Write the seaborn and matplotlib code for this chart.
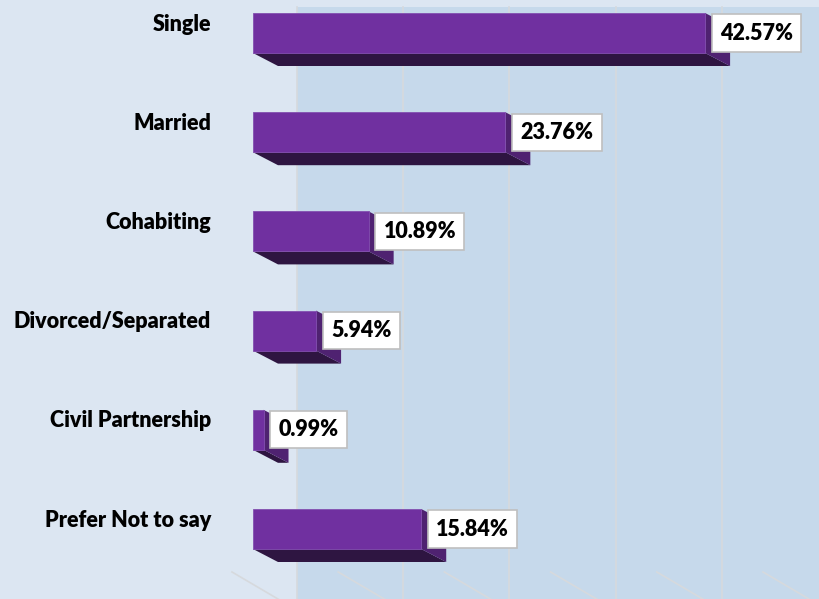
import matplotlib
matplotlib.use("Agg")
import matplotlib.pyplot as plt
import numpy as np
import pandas as pd
import seaborn as sns
from matplotlib.patches import Polygon, Rectangle
from matplotlib.lines import Line2D
from matplotlib import transforms as mtrans

# ---------------- data ----------------
categories = ["Single", "Married", "Cohabiting", "Divorced/Separated",
              "Civil Partnership", "Prefer Not to say"]
values = [42.57, 23.76, 10.89, 5.94, 0.99, 15.84]
value_labels = ["42.57%", "23.76%", "10.89%", "5.94%", "0.99%", "15.84%"]
grid_values = [0, 10, 20, 30, 40, 50]

# ---------------- style ----------------
W, H, DPI = 819, 599, 100
BG = "#DCE6F2"
WALL = "#C6D9EB"
GRID = "#D6D9DD"
FACE = "#7030A0"
SIDE_BOTTOM = "#2E1541"
SIDE_RIGHT = "#4F2271"
FONT = ["Lato", "DejaVu Sans"]
WEIGHT = "heavy"

px_per_unit = 10.62   # horizontal scale
origin_px = 253       # pixel x of value 0
row_px = 99.2         # pixel distance between bars
first_row_px = 33     # pixel y of first bar centre
bar_h = 40 / row_px
DX, DY = 25, 13       # 3D depth offset in pixels (right, down)
WALL_DX = 44          # back wall offset

fig = plt.figure(figsize=(W / DPI, H / DPI), dpi=DPI)
fig.patch.set_facecolor(BG)
ax = fig.add_axes([0, 0, 1, 1])
ax.set_facecolor(BG)

df = pd.DataFrame({"category": categories, "value": values})
sns.barplot(data=df, x="value", y="category", orient="h", color=FACE,
            saturation=1, width=bar_h, errorbar=None, ax=ax,
            edgecolor="#8350B0", linewidth=0.6, zorder=5)

ax.set_xlim(-origin_px / px_per_unit, (W - origin_px) / px_per_unit)
ax.set_ylim((H - first_row_px) / row_px, -first_row_px / row_px)
ax.axis("off")

ID = mtrans.IdentityTransform()


def disp(x, y, dx=0.0, dy=0.0):
    p = ax.transData.transform((x, y))
    return (p[0] + dx, p[1] - dy)


# back wall
wall_left = disp(0, 0, WALL_DX)[0]
wall_top = H - 7
ax.add_patch(Rectangle((wall_left, 0), W - wall_left + 5, wall_top,
                       transform=ID, facecolor=WALL, edgecolor="none", zorder=0))

# vertical gridlines on wall
for g in grid_values:
    gx = disp(g, 0, WALL_DX)[0]
    ax.add_line(Line2D([gx, gx], [0, wall_top], transform=ID, color=GRID,
                       lw=1.2, zorder=1))

# floor lines
for g in grid_values:
    sx = disp(g, 0, -21)[0]
    sy = H - 572
    ax.add_line(Line2D([sx, sx + 80], [sy, sy - 47], transform=ID,
                       color=GRID, lw=1.2, zorder=1))

# 3D sides of bars
for i, v in enumerate(values):
    top, bot = i - bar_h / 2, i + bar_h / 2
    bottom_side = [disp(0, bot), disp(v, bot), disp(v, bot, DX, DY), disp(0, bot, DX, DY)]
    right_side = [disp(v, top), disp(v, bot), disp(v, bot, DX, DY), disp(v, top, DX, DY)]
    ax.add_patch(Polygon(bottom_side, closed=True, transform=ID,
                         facecolor=SIDE_BOTTOM, edgecolor="none", zorder=3))
    ax.add_patch(Polygon(right_side, closed=True, transform=ID,
                         facecolor=SIDE_RIGHT, edgecolor="none", zorder=4))

# category labels
for i, c in enumerate(categories):
    ax.annotate(c, xy=(0, i), xycoords="data", xytext=(-42, 2.5),
                textcoords="offset pixels", ha="right", va="baseline",
                fontsize=15.5, fontweight=WEIGHT, family=FONT, color="black",
                zorder=6)

# value labels
for i, (v, lab) in enumerate(zip(values, value_labels)):
    ax.annotate(lab, xy=(v, i), xycoords="data", xytext=(15, 0),
                textcoords="offset pixels", ha="left", va="center",
                fontsize=15.5, fontweight=WEIGHT, family=FONT, color="black",
                bbox=dict(boxstyle="square,pad=0.38", facecolor="white",
                          edgecolor="#BFBFBF", linewidth=1.2),
                zorder=7)

fig.savefig("out.png", dpi=DPI, facecolor=BG)
